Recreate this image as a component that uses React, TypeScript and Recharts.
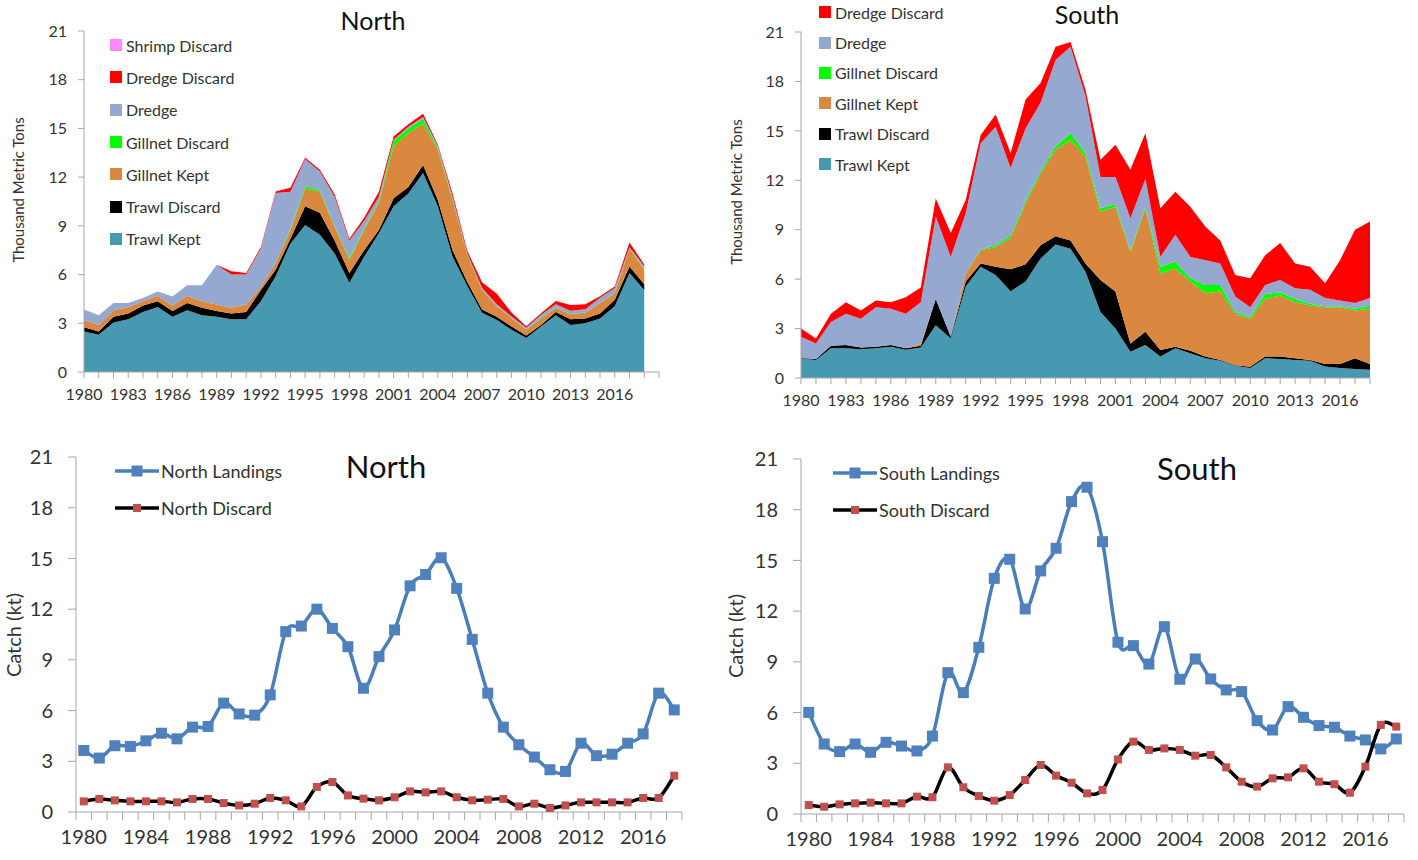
import React from "react";
import { AreaChart, Area, LineChart, Line, XAxis, YAxis, Legend } from "recharts";

// years 1980-2018
const YEARS = [
  1980, 1981, 1982, 1983, 1984, 1985, 1986, 1987, 1988, 1989,
  1990, 1991, 1992, 1993, 1994, 1995, 1996, 1997, 1998, 1999,
  2000, 2001, 2002, 2003, 2004, 2005, 2006, 2007, 2008, 2009,
  2010, 2011, 2012, 2013, 2014, 2015, 2016, 2017, 2018,
];
const NORTH_AXIS_YEARS = [...YEARS, 2019];
const TOP_TICK_LABELS = [1980, 1983, 1986, 1989, 1992, 1995, 1998, 2001, 2004, 2007, 2010, 2013, 2016];
const BOTTOM_TICK_LABELS = [1980, 1984, 1988, 1992, 1996, 2000, 2004, 2008, 2012, 2016];
const Y_TICKS = [0, 3, 6, 9, 12, 15, 18, 21];

// North, by gear (thousand metric tons)
const nTrawlKept = [2.5, 2.3, 3.05, 3.25, 3.7, 4.0, 3.4, 3.8, 3.5, 3.4, 3.25, 3.25, 4.35, 5.9, 7.9, 9.05, 8.45, 7.3, 5.5, 7.1, 8.55, 10.2, 11.0, 12.25, 10.2, 7.1, 5.3, 3.65, 3.2, 2.6, 2.1, 2.8, 3.5, 2.9, 3.0, 3.3, 4.05, 6.1, 5.05];
const nTrawlDiscard = [0.25, 0.2, 0.35, 0.35, 0.4, 0.35, 0.35, 0.45, 0.45, 0.35, 0.35, 0.45, 0.7, 0.4, 0.3, 1.15, 1.35, 0.8, 0.6, 0.4, 0.2, 0.5, 0.4, 0.5, 0.4, 0.4, 0.25, 0.2, 0.2, 0.2, 0.15, 0.1, 0.2, 0.35, 0.3, 0.3, 0.4, 0.4, 0.35];
const nGillnetKept = [0.45, 0.4, 0.4, 0.4, 0.25, 0.35, 0.35, 0.45, 0.4, 0.4, 0.35, 0.45, 0.2, 0.4, 0.55, 1.1, 1.3, 0.85, 0.8, 1.25, 1.65, 3.2, 3.3, 2.55, 3.1, 3.1, 1.65, 1.2, 0.65, 0.5, 0.35, 0.4, 0.25, 0.3, 0.35, 0.65, 0.4, 1.1, 0.9];
const nGillnetDiscard = [0, 0, 0, 0, 0, 0, 0, 0, 0, 0, 0, 0, 0, 0.02, 0.05, 0.15, 0.1, 0.05, 0.1, 0.05, 0.1, 0.35, 0.3, 0.3, 0.1, 0.05, 0.05, 0.02, 0.02, 0.02, 0.02, 0.02, 0.02, 0.02, 0.02, 0.02, 0.02, 0.03, 0.02];
const nDredge = [0.65, 0.6, 0.45, 0.25, 0.2, 0.25, 0.55, 0.65, 1.0, 2.45, 2.05, 1.85, 2.35, 4.3, 2.3, 1.65, 1.15, 1.8, 1.1, 0.5, 0.3, 0.05, 0.1, 0.1, 0.1, 0.15, 0.05, 0.1, 0.1, 0.1, 0.1, 0.2, 0.2, 0.2, 0.2, 0.3, 0.3, 0.05, 0.2];
const nDredgeDiscard = [0, 0, 0, 0, 0, 0, 0, 0, 0, 0, 0.2, 0.1, 0.1, 0.1, 0.25, 0.1, 0.1, 0.15, 0.1, 0.2, 0.3, 0.2, 0.15, 0.2, 0.1, 0.2, 0.15, 0.35, 0.65, 0.25, 0.1, 0.1, 0.2, 0.35, 0.3, 0.1, 0.1, 0.3, 0.1];
const nShrimpDiscard = [0, 0, 0, 0, 0, 0, 0, 0, 0, 0, 0, 0, 0, 0.02, 0.02, 0.02, 0.02, 0, 0, 0, 0, 0, 0, 0, 0, 0, 0, 0, 0, 0, 0, 0, 0, 0, 0, 0, 0, 0, 0];

// South, by gear
const sTrawlKept = [1.18, 1.1, 1.8, 1.8, 1.75, 1.8, 1.9, 1.72, 1.85, 3.2, 2.4, 5.55, 6.75, 6.25, 5.27, 5.85, 7.25, 8.1, 7.85, 6.45, 4.0, 3.0, 1.6, 2.0, 1.3, 1.8, 1.5, 1.2, 1.05, 0.75, 0.6, 1.2, 1.15, 1.1, 1.05, 0.7, 0.6, 0.55, 0.5];
const sTrawlDiscard = [0.03, 0.05, 0.15, 0.2, 0.1, 0.1, 0.1, 0.08, 0.1, 1.6, 0.1, 0.3, 0.2, 0.5, 1.33, 1.05, 0.8, 0.5, 0.5, 0.5, 1.95, 2.25, 0.5, 0.8, 0.4, 0.1, 0.15, 0.1, 0.05, 0.03, 0.08, 0.1, 0.15, 0.1, 0.05, 0.15, 0.25, 0.65, 0.35];
const sGillnetKept = [0, 0, 0, 0, 0, 0, 0, 0, 0.15, 0, 0, 0.5, 0.8, 1.2, 1.9, 3.7, 4.35, 5.25, 6.1, 6.5, 4.15, 5.15, 5.55, 7.5, 4.65, 4.75, 4.2, 3.85, 4.15, 3.12, 2.92, 3.5, 3.7, 3.4, 3.3, 3.45, 3.45, 2.9, 3.35];
const sGillnetDiscard = [0, 0, 0, 0, 0, 0, 0, 0, 0, 0, 0, 0, 0.05, 0.1, 0.15, 0.15, 0.15, 0.2, 0.4, 0.2, 0.2, 0.15, 0.1, 0.1, 0.4, 0.4, 0.2, 0.5, 0.4, 0.1, 0.1, 0.3, 0.2, 0.2, 0.1, 0.05, 0.05, 0.1, 0.2];
const sDredge = [1.3, 0.95, 1.45, 1.9, 1.75, 2.4, 2.2, 2.1, 2.5, 5.0, 4.85, 3.65, 6.45, 7.2, 4.1, 4.4, 4.15, 5.25, 5.25, 3.45, 1.9, 1.65, 1.95, 1.7, 0.6, 1.65, 1.3, 1.5, 1.3, 0.95, 0.6, 0.55, 0.75, 0.65, 0.85, 0.5, 0.35, 0.35, 0.45];
const sDredgeDiscard = [0.5, 0.3, 0.5, 0.7, 0.5, 0.4, 0.4, 1.0, 0.9, 1.1, 1.45, 0.8, 0.5, 0.75, 0.9, 1.75, 1.2, 0.8, 0.3, 0.4, 1.05, 1.95, 2.95, 2.75, 2.95, 2.6, 3.05, 2.05, 1.4, 1.3, 1.75, 1.8, 2.25, 1.5, 1.4, 0.9, 2.45, 4.45, 4.65];

// Catch (kt)
const northLandings = [3.64, 3.19, 3.92, 3.88, 4.21, 4.66, 4.33, 5.02, 5.06, 6.44, 5.8, 5.73, 6.93, 10.67, 11.0, 12.0, 10.86, 9.78, 7.32, 9.19, 10.77, 13.38, 14.05, 15.04, 13.23, 10.21, 7.03, 5.02, 3.98, 3.25, 2.5, 2.4, 4.07, 3.33, 3.42, 4.07, 4.62, 7.03, 6.04];
const northDiscard = [0.63, 0.77, 0.69, 0.63, 0.63, 0.63, 0.57, 0.77, 0.77, 0.53, 0.39, 0.49, 0.83, 0.69, 0.33, 1.48, 1.77, 0.98, 0.79, 0.69, 0.87, 1.22, 1.16, 1.22, 0.87, 0.69, 0.73, 0.77, 0.33, 0.49, 0.24, 0.39, 0.57, 0.57, 0.57, 0.57, 0.83, 0.83, 2.15];
const southLandings = [6.01, 4.14, 3.69, 4.14, 3.65, 4.24, 4.02, 3.73, 4.61, 8.36, 7.18, 9.86, 13.94, 15.07, 12.13, 14.38, 15.72, 18.48, 19.33, 16.11, 10.16, 9.96, 8.87, 11.08, 7.97, 9.17, 7.99, 7.34, 7.24, 5.52, 4.97, 6.35, 5.72, 5.23, 5.13, 4.61, 4.38, 3.85, 4.44];
const southDiscard = [0.53, 0.43, 0.57, 0.63, 0.67, 0.63, 0.63, 1.03, 0.99, 2.76, 1.58, 1.06, 0.79, 1.12, 2.01, 2.9, 2.27, 1.85, 1.22, 1.42, 3.23, 4.28, 3.79, 3.88, 3.79, 3.45, 3.49, 2.76, 1.91, 1.62, 2.11, 2.17, 2.7, 1.91, 1.76, 1.26, 2.8, 5.27, 5.17];

const STACK_SERIES = [
  { key: "trawlKept", name: "Trawl Kept", color: "#4799B1" },
  { key: "trawlDiscard", name: "Trawl Discard", color: "#000000" },
  { key: "gillnetKept", name: "Gillnet Kept", color: "#DA8740" },
  { key: "gillnetDiscard", name: "Gillnet Discard", color: "#00FF00" },
  { key: "dredge", name: "Dredge", color: "#95A8D0" },
  { key: "dredgeDiscard", name: "Dredge Discard", color: "#FF0000" },
  { key: "shrimpDiscard", name: "Shrimp Discard", color: "#FF88FF" },
];
const STACK_ORDER = STACK_SERIES.map((s) => s.name);
const COLOR_BY_NAME: Record<string, string> = {};
STACK_SERIES.forEach((s) => (COLOR_BY_NAME[s.name] = s.color));

const northRows = YEARS.map((year, i) => ({
  year,
  trawlKept: nTrawlKept[i],
  trawlDiscard: nTrawlDiscard[i],
  gillnetKept: nGillnetKept[i],
  gillnetDiscard: nGillnetDiscard[i],
  dredge: nDredge[i],
  dredgeDiscard: nDredgeDiscard[i],
  shrimpDiscard: nShrimpDiscard[i],
}));
const southRows = YEARS.map((year, i) => ({
  year,
  trawlKept: sTrawlKept[i],
  trawlDiscard: sTrawlDiscard[i],
  gillnetKept: sGillnetKept[i],
  gillnetDiscard: sGillnetDiscard[i],
  dredge: sDredge[i],
  dredgeDiscard: sDredgeDiscard[i],
}));
const northCatch = YEARS.map((year, i) => ({ year, landings: northLandings[i], discard: northDiscard[i] }));
const southCatch = YEARS.map((year, i) => ({ year, landings: southLandings[i], discard: southDiscard[i] }));

const TEXT = "#333333";
const AXIS = "#A6A6A6";

// Excel-like smoothed line (Catmull-Rom style bezier)
const excelSmooth: any = (context: any) => {
  let pts: number[][] = [];
  return {
    areaStart() {},
    areaEnd() {},
    lineStart() {
      pts = [];
    },
    lineEnd() {
      if (!pts.length) return;
      context.moveTo(pts[0][0], pts[0][1]);
      for (let i = 0; i < pts.length - 1; i++) {
        const p0 = pts[i - 1] || pts[i];
        const p1 = pts[i];
        const p2 = pts[i + 1];
        const p3 = pts[i + 2] || p2;
        context.bezierCurveTo(
          p1[0] + (p2[0] - p0[0]) / 6, p1[1] + (p2[1] - p0[1]) / 6,
          p2[0] - (p3[0] - p1[0]) / 6, p2[1] - (p3[1] - p1[1]) / 6,
          p2[0], p2[1]
        );
      }
    },
    point(x: number, y: number) {
      pts.push([+x, +y]);
    },
  };
};

const Title = ({ cx, cy, size, text }: any) => (
  <div style={{ position: "absolute", left: cx - 100, top: cy - size * 0.7, width: 200, height: size * 1.4, lineHeight: `${size * 1.4}px`, textAlign: "center", fontSize: size, color: "#111" }}>
    {text}
  </div>
);

const VLabel = ({ cx, cy, size, text }: any) => (
  <div style={{ position: "absolute", left: cx - 150, top: cy - 15, width: 300, height: 30, lineHeight: "30px", textAlign: "center", fontSize: size, color: TEXT, transform: "rotate(-90deg)", whiteSpace: "nowrap" }}>
    {text}
  </div>
);

// legend lists the stack top-down (reverse of drawing order)
const stackLegend = (gap: number) => (props: any) => {
  const present = (props.payload || []).map((it: any) => it.value);
  const items = [...STACK_ORDER].reverse().filter((n) => present.includes(n));
  return (
    <div>
      {items.map((name) => (
        <div key={name} style={{ height: gap, display: "flex", alignItems: "center" }}>
          <span style={{ display: "inline-block", width: 12, height: 12, background: COLOR_BY_NAME[name], marginRight: 4 }} />
          <span style={{ fontSize: 16, color: TEXT, whiteSpace: "nowrap" }}>{name}</span>
        </div>
      ))}
    </div>
  );
};

const LINE_STYLE: Record<string, { line: string; marker: string; size: number }> = {
  landings: { line: "#4A7EBB", marker: "#4F81BD", size: 11 },
  discard: { line: "#000000", marker: "#C0504D", size: 8 },
};
const LINE_ORDER = ["landings", "discard"];

const lineLegend = (props: any) => {
  const items = [...(props.payload || [])].sort(
    (a: any, b: any) => LINE_ORDER.indexOf(a.dataKey) - LINE_ORDER.indexOf(b.dataKey)
  );
  return (
    <div>
      {items.map((it: any) => {
        const st = LINE_STYLE[it.dataKey];
        return (
          <div key={it.value} style={{ height: 37, display: "flex", alignItems: "center" }}>
            <svg width={44} height={14}>
              <line x1={0} y1={7} x2={44} y2={7} stroke={st.line} strokeWidth={3.5} />
              <rect x={22 - st.size / 2} y={7 - st.size / 2} width={st.size} height={st.size} fill={st.marker} />
            </svg>
            <span style={{ marginLeft: 2, fontSize: 18, color: TEXT, whiteSpace: "nowrap" }}>{it.value}</span>
          </div>
        );
      })}
    </div>
  );
};

const squareDot = (color: string, size: number) => (props: any) => {
  const { cx, cy, index } = props;
  if (cx == null || cy == null) return <g key={`d-${index}`} />;
  return <rect key={`d-${index}`} x={cx - size / 2} y={cy - size / 2} width={size} height={size} fill={color} />;
};

const StackPanel = ({ rows, series, width, height, margin, yWidth, xTicks, legendPos, legendGap }: any) => (
  <AreaChart width={width} height={height} data={rows} margin={margin}>
    <XAxis
      dataKey="year"
      type="number"
      domain={[xTicks[0], xTicks[xTicks.length - 1]]}
      ticks={xTicks}
      interval={0}
      tickFormatter={(v: number) => (TOP_TICK_LABELS.includes(v) ? String(v) : "")}
      stroke={AXIS}
      tickSize={6}
      tickMargin={11}
      height={30}
      tick={{ fill: TEXT, fontSize: 16 }}
    />
    <YAxis
      domain={[0, 21]}
      ticks={Y_TICKS}
      interval={0}
      width={yWidth}
      stroke={AXIS}
      tickSize={6}
      tickMargin={11}
      tick={{ fill: TEXT, fontSize: 16 }}
    />
    <Legend
      layout="horizontal"
      verticalAlign="middle"
      align="center"
      wrapperStyle={{ left: legendPos.left, top: legendPos.top, width: "auto" }}
      content={stackLegend(legendGap)}
    />
    {series.map((s: any) => (
      <Area
        key={s.key}
        dataKey={s.key}
        name={s.name}
        stackId="gear"
        type="linear"
        fill={s.color}
        fillOpacity={1}
        stroke="none"
        isAnimationActive={false}
      />
    ))}
  </AreaChart>
);

const CatchPanel = ({ rows, names, width, height, margin, yWidth, step, legendPos }: any) => {
  const halfTicks = [...YEARS.map((y) => y - 0.5), YEARS[YEARS.length - 1] + 0.5];
  const renderTick = (props: any) => {
    const { x, y, payload } = props;
    const yr = payload.value + 0.5;
    if (!BOTTOM_TICK_LABELS.includes(yr)) return <g />;
    return (
      <text x={x + step / 2} y={y} dy="0.71em" textAnchor="middle" fill={TEXT} fontSize={20}>
        {yr}
      </text>
    );
  };
  return (
    <LineChart width={width} height={height} data={rows} margin={margin}>
      <XAxis
        dataKey="year"
        type="number"
        domain={[halfTicks[0], halfTicks[halfTicks.length - 1]]}
        ticks={halfTicks}
        interval={0}
        stroke={AXIS}
        tickSize={8}
        tickMargin={10}
        height={40}
        tick={renderTick}
      />
      <YAxis
        domain={[0, 21]}
        ticks={Y_TICKS}
        interval={0}
        width={yWidth}
        stroke={AXIS}
        tickSize={8}
        tickMargin={15}
        tick={{ fill: TEXT, fontSize: 20 }}
      />
      <Legend
        layout="horizontal"
        verticalAlign="middle"
        align="center"
        wrapperStyle={{ left: legendPos.left, top: legendPos.top, width: "auto" }}
        content={lineLegend}
      />
      <Line
        dataKey="landings"
        name={names[0]}
        type={excelSmooth}
        stroke={LINE_STYLE.landings.line}
        strokeWidth={3.5}
        dot={squareDot(LINE_STYLE.landings.marker, LINE_STYLE.landings.size)}
        activeDot={false}
        isAnimationActive={false}
      />
      <Line
        dataKey="discard"
        name={names[1]}
        type={excelSmooth}
        stroke={LINE_STYLE.discard.line}
        strokeWidth={3.5}
        dot={squareDot(LINE_STYLE.discard.marker, LINE_STYLE.discard.size)}
        activeDot={false}
        isAnimationActive={false}
      />
    </LineChart>
  );
};

export default function App() {
  return (
    <div style={{ position: "absolute", left: 0, top: 0, width: 1418, height: 860, background: "#fff", fontFamily: "Lato, 'Open Sans', sans-serif", overflow: "hidden" }}>
      <div style={{ position: "absolute", left: 0, top: 0 }}>
        <StackPanel
          rows={northRows}
          series={STACK_SERIES}
          width={700}
          height={420}
          margin={{ top: 31, right: 41, left: 0, bottom: 18 }}
          yWidth={84}
          xTicks={NORTH_AXIS_YEARS}
          legendPos={{ left: 110, top: 29 }}
          legendGap={32.3}
        />
      </div>
      <div style={{ position: "absolute", left: 720, top: 0 }}>
        <StackPanel
          rows={southRows}
          series={STACK_SERIES.slice(0, 6)}
          width={698}
          height={420}
          margin={{ top: 32, right: 48, left: 0, bottom: 12 }}
          yWidth={81}
          xTicks={YEARS}
          legendPos={{ left: 99, top: -3 }}
          legendGap={30.4}
        />
      </div>
      <div style={{ position: "absolute", left: 0, top: 440 }}>
        <CatchPanel
          rows={northCatch}
          names={["North Landings", "North Discard"]}
          width={700}
          height={420}
          margin={{ top: 17, right: 18, left: 0, bottom: 8 }}
          yWidth={76}
          step={606 / 39}
          legendPos={{ left: 115, top: 12 }}
        />
      </div>
      <div style={{ position: "absolute", left: 720, top: 440 }}>
        <CatchPanel
          rows={southCatch}
          names={["South Landings", "South Discard"]}
          width={698}
          height={420}
          margin={{ top: 19, right: 14, left: 0, bottom: 6 }}
          yWidth={81}
          step={603 / 39}
          legendPos={{ left: 113, top: 14 }}
        />
      </div>
      <Title cx={373} cy={20} size={25} text="North" />
      <Title cx={1087} cy={14} size={25} text="South" />
      <Title cx={386} cy={467} size={31} text="North" />
      <Title cx={1197} cy={469} size={31} text="South" />
      <VLabel cx={18} cy={190} size={15} text="Thousand Metric Tons" />
      <VLabel cx={736} cy={192} size={15} text="Thousand Metric Tons" />
      <VLabel cx={13} cy={635} size={20} text="Catch (kt)" />
      <VLabel cx={735} cy={636} size={20} text="Catch (kt)" />
    </div>
  );
}
